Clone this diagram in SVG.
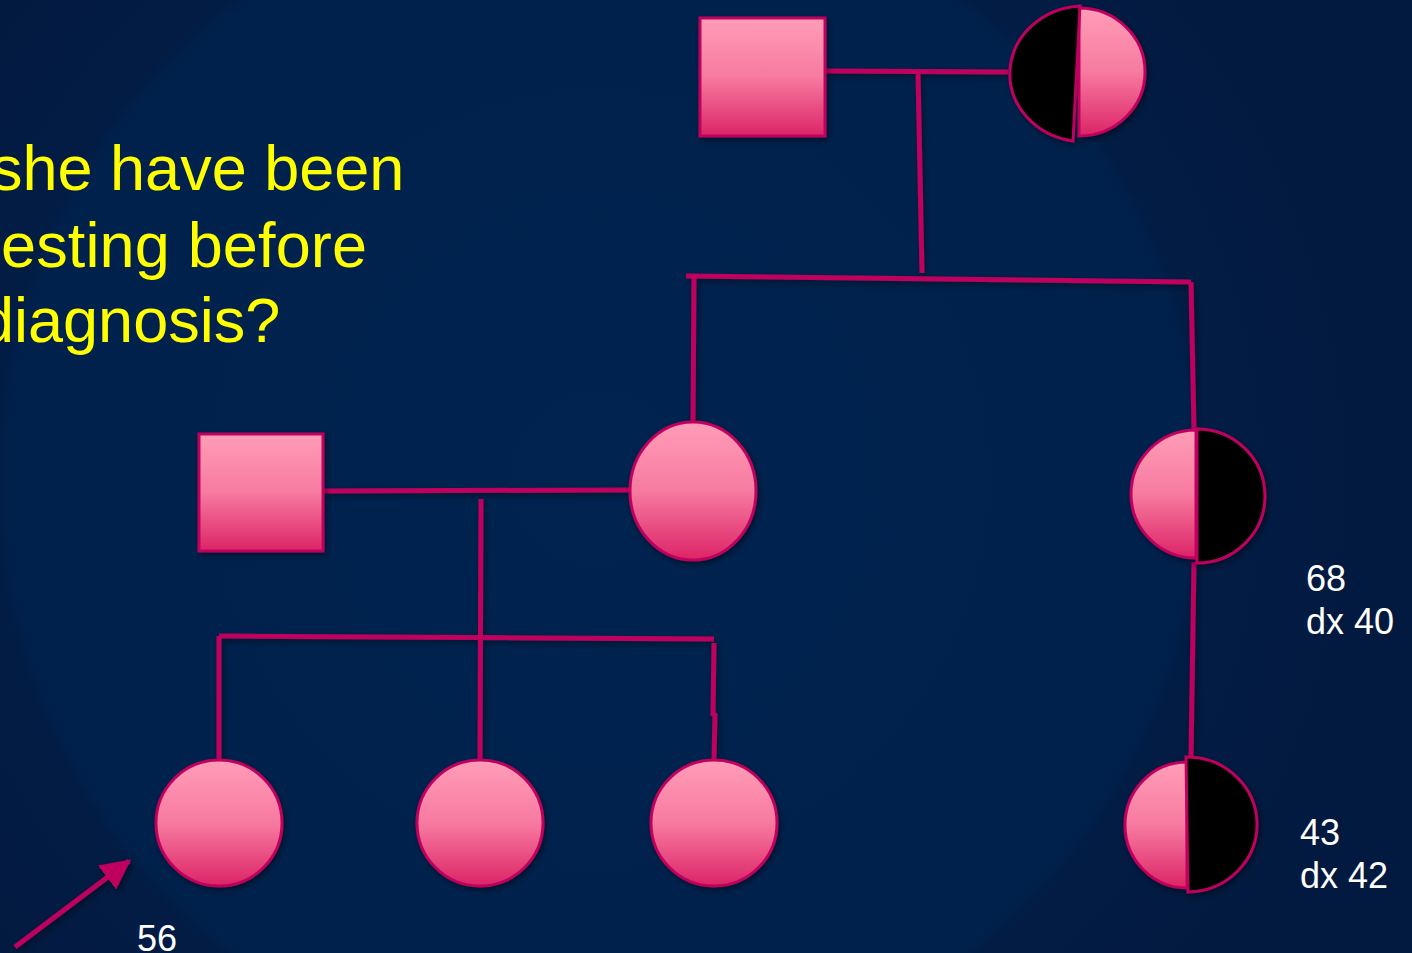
<svg xmlns="http://www.w3.org/2000/svg" width="1412" height="953" viewBox="0 0 1412 953">
<defs>
<radialGradient id="bg" cx="600" cy="480" r="760" gradientUnits="userSpaceOnUse">
<stop offset="0" stop-color="#00234f"/>
<stop offset="0.78" stop-color="#00214c"/>
<stop offset="0.8" stop-color="#021c44"/>
<stop offset="1" stop-color="#031a40"/>
</radialGradient>
<linearGradient id="pink" x1="0" y1="0" x2="0" y2="1">
<stop offset="0" stop-color="#ff9db8"/>
<stop offset="0.5" stop-color="#f77aa0"/>
<stop offset="1" stop-color="#dc2466"/>
</linearGradient>
<filter id="sh" x="-20%" y="-20%" width="140%" height="140%">
<feDropShadow dx="2" dy="3" stdDeviation="3" flood-color="#000" flood-opacity="0.45"/>
</filter>
<marker id="ah" markerWidth="6" markerHeight="6" refX="5.5" refY="3" orient="auto" markerUnits="strokeWidth">
<path d="M0,0 L6,3 L0,6 Z" fill="#c0065e"/>
</marker>
<style>
.ln{stroke:#c0065e;stroke-width:5;fill:none}
.nd{fill:url(#pink);stroke:#c0065e;stroke-width:3}
.blk{fill:#000;stroke:#c0065e;stroke-width:3}
.q{font-family:"Liberation Sans",Arial,sans-serif;font-size:63px;fill:#ffff00}
.lb{font-family:"Liberation Sans",Arial,sans-serif;font-size:36px;fill:#ffffff}
</style>
</defs>
<rect x="0" y="0" width="1412" height="953" fill="url(#bg)"/>

<g id="question">
<text class="q" x="-9" y="190">she have been</text>
<text class="q" x="1" y="267" textLength="366">esting before</text>
<text class="q" x="-21" y="342">diagnosis?</text>
</g>

<g id="connectors" filter="url(#sh)">
<line class="ln" x1="826" y1="71" x2="1008" y2="72"/>
<line class="ln" x1="918" y1="72" x2="922" y2="273"/>
<line class="ln" x1="686" y1="276" x2="1191" y2="282"/>
<line class="ln" x1="694" y1="276" x2="693" y2="422"/>
<line class="ln" x1="1191" y1="282" x2="1194" y2="430"/>
<line class="ln" x1="1194" y1="562" x2="1191" y2="758"/>
<line class="ln" x1="323" y1="491" x2="631" y2="490"/>
<line class="ln" x1="481" y1="499" x2="480" y2="760"/>
<line class="ln" x1="219" y1="636" x2="714" y2="639"/>
<line class="ln" x1="219" y1="636" x2="219" y2="760"/>
<polyline class="ln" points="714,643 713,714 715,715 714,760"/>
<line class="ln" x1="15" y1="947" x2="129" y2="861" marker-end="url(#ah)"/>
</g>

<g id="grandfather" filter="url(#sh)">
<rect class="nd" x="700" y="18" width="125" height="118"/>
</g>

<g id="grandmother" filter="url(#sh)">
<path class="nd" d="M1079,8 A66,64 0 0 1 1079,136 Z"/>
<path class="blk" d="M1080,6 L1073,141 A75,68 0 0 1 1080,6 Z"/>
</g>

<g id="father" filter="url(#sh)">
<rect class="nd" x="199" y="434" width="124" height="117"/>
</g>

<g id="mother" filter="url(#sh)">
<ellipse class="nd" cx="693" cy="491" rx="63" ry="69"/>
</g>

<g id="aunt" filter="url(#sh)">
<path class="nd" d="M1196,430 A65,64 0 0 0 1196,558 Z"/>
<path class="blk" d="M1197,429 A68,67 0 0 1 1197,563 Z"/>
</g>

<g id="cousin" filter="url(#sh)">
<path class="nd" d="M1187,762 A62,63 0 0 0 1187,888 Z"/>
<path class="blk" d="M1186,757 A70,67.5 0 0 1 1188,892 Z"/>
</g>

<g id="proband" filter="url(#sh)">
<circle class="nd" cx="219" cy="823" r="63"/>
</g>
<g id="sister1" filter="url(#sh)">
<circle class="nd" cx="480" cy="823" r="63"/>
</g>
<g id="sister2" filter="url(#sh)">
<circle class="nd" cx="714" cy="823" r="63"/>
</g>

<g id="labels">
<text class="lb" x="1306" y="591">68</text>
<text class="lb" x="1306" y="634">dx 40</text>
<text class="lb" x="1300" y="845">43</text>
<text class="lb" x="1300" y="888">dx 42</text>
<text class="lb" x="137" y="951">56</text>
</g>
</svg>
